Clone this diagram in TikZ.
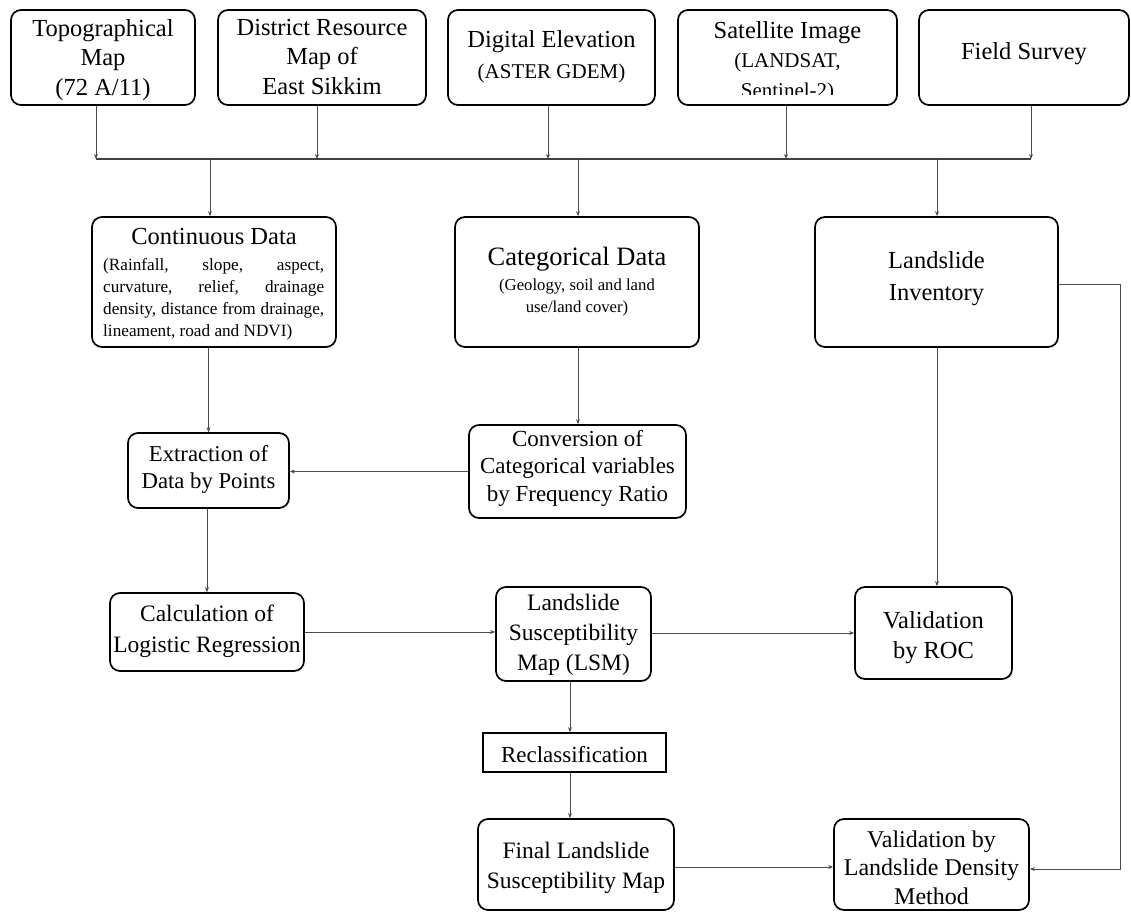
\documentclass[tikz,border=0pt]{standalone}
\usepackage{fontspec}
\setmainfont{Liberation Serif}
\usetikzlibrary{arrows.meta}
\newcommand{\ml}[3]{\fontsize{#1}{#2}\selectfont\begin{tabular}[t]{@{}c@{}}#3\end{tabular}}
\begin{document}
\begin{tikzpicture}[x=1pt,y=-1pt,
  box/.style={draw=black, line width=1.7pt, rounded corners=10pt, inner sep=0pt},
  sbox/.style={draw=black, line width=1.7pt, inner sep=0pt},
  txt/.style={inner sep=0pt, anchor=base},
  con/.style={draw=black!70, line width=1pt},
  arr/.style={con, -{Stealth[length=5pt,width=4pt]}},
  bus/.style={draw=black!75, line width=1.7pt}]
\useasboundingbox (0,0) rectangle (1131,912);

% ---------- top row
\node[box, minimum width=184pt, minimum height=95pt] (topo) at (103,57.5) {};
\node[txt] (topo-t) at (103,36.7) {\ml{24.5}{29.2}{Topographical\\Map\\(72 A/11)}};
\node[box, minimum width=208pt, minimum height=95pt] (dist) at (322,57.5) {};
\node[txt] (dist-t) at (322,35.5) {\ml{24.5}{29.3}{District Resource\\Map of\\East Sikkim}};
\node[box, minimum width=207pt, minimum height=95pt] (dem) at (551.5,57.5) {};
\node[txt] (dem-t) at (551.5,48) {\ml{24.5}{31}{Digital Elevation\\\fontsize{21}{25}\selectfont(ASTER GDEM)}};
\node[box, minimum width=219pt, minimum height=95pt] (sat) at (787.5,57.5) {};
\begin{scope}
\clip (680,12) rectangle (895,95);
\node[txt] (sat-t) at (787.5,38.3) {\ml{24.5}{29.5}{Satellite Image\\\fontsize{21}{25}\selectfont(LANDSAT,\\\fontsize{21}{25}\selectfont Sentinel-2)}};
\end{scope}
\node[box, minimum width=210pt, minimum height=95pt] (field) at (1024,57.5) {};
\node[txt] (field-t) at (1024,59.3) {\ml{24.5}{29}{Field Survey}};

% ---------- bus
\coordinate (b1) at (96,159);
\coordinate (b2) at (317,159);
\coordinate (b3) at (548,159);
\coordinate (b4) at (786,159);
\coordinate (b5) at (1031,159);
\coordinate (d1) at (210,159);
\coordinate (d2) at (578,159);
\coordinate (d3) at (937,159);
\draw[arr] (topo.south -| b1) -- (b1);
\draw[arr] (dist.south -| b2) -- (b2);
\draw[arr] (dem.south -| b3) -- (b3);
\draw[arr] (sat.south -| b4) -- (b4);
\draw[arr] (field.south -| b5) -- (b5);
\draw[bus] (b1) -- (b5);

% ---------- middle row
\node[box, minimum width=244pt, minimum height=130pt] (cont) at (214,282) {};
\node[txt] (cont-t) at (214,244) {\fontsize{24.5}{29}\selectfont Continuous Data};
\node[txt, anchor=base west] (cont-b) at (103,270) {\fontsize{17.2}{22}\selectfont\begin{tabular}[t]{@{}l@{}}\makebox[221pt][s]{(Rainfall, slope, aspect,}\\\makebox[221pt][s]{curvature, relief, drainage}\\\makebox[221pt][s]{density, distance from drainage,}\\lineament, road and NDVI)\end{tabular}};
\node[box, minimum width=244pt, minimum height=130pt] (cat) at (577,282) {};
\node[txt] (cat-t) at (577,265) {\fontsize{26.5}{30}\selectfont Categorical Data};
\node[txt] (cat-b) at (577,290.5) {\ml{16.7}{22}{(Geology, soil and land\\use/land cover)}};
\node[box, minimum width=243pt, minimum height=130pt] (inv) at (936.5,282) {};
\node[txt] (inv-t) at (936.5,268) {\ml{24.5}{32}{Landslide\\Inventory}};

\draw[arr] (d1) -- (d1 |- cont.north);
\draw[arr] (d2) -- (d2 |- cat.north);
\draw[arr] (d3) -- (d3 |- inv.north);

% ---------- extraction / conversion
\node[box, minimum width=161pt, minimum height=75pt] (ext) at (208.5,470.5) {};
\node[txt] (ext-t) at (208.5,461) {\ml{22.7}{27}{Extraction of\\Data by Points}};
\node[box, minimum width=217pt, minimum height=93pt] (conv) at (577.5,471.5) {};
\node[txt] (conv-t) at (577.5,446) {\ml{23}{27.5}{Conversion of\\Categorical variables\\by Frequency Ratio}};
\draw[arr] (cont.south -| ext.north) -- (ext.north);
\draw[arr] (d2 |- cat.south) -- (d2 |- conv.north);
\draw[arr] (conv.west) -- (conv.west -| ext.east);

% ---------- calculation / LSM / ROC
\node[box, minimum width=194pt, minimum height=78pt] (calc) at (207,632) {};
\node[txt] (calc-t) at (207,621) {\ml{23.5}{31}{Calculation of\\Logistic Regression}};
\node[box, minimum width=155pt, minimum height=94pt] (lsm) at (573.5,634) {};
\node[txt] (lsm-t) at (573.5,610) {\ml{23.5}{30}{Landslide\\Susceptibility\\Map (LSM)}};
\node[box, minimum width=157pt, minimum height=92pt] (roc) at (933.5,633) {};
\node[txt] (roc-t) at (933.5,628) {\ml{24.5}{30}{Validation\\by ROC}};
\draw[arr] (calc.north |- ext.south) -- (calc.north);
\draw[arr] (calc.east) -- (calc.east -| lsm.west);
\draw[arr] (lsm.east |- roc.west) -- (roc.west);
\draw[arr] (d3 |- inv.south) -- (d3 |- roc.north);

% ---------- reclassification / final / density
\coordinate (c5) at (570,700);
\node[sbox, minimum width=183pt, minimum height=39pt] (recl) at (574.5,752.5) {};
\node[txt] (recl-t) at (574.5,762) {\fontsize{23}{28}\selectfont Reclassification};
\node[box, minimum width=196pt, minimum height=91pt] (final) at (576,864.5) {};
\node[txt] (final-t) at (576,858) {\ml{23.5}{30}{Final Landslide\\Susceptibility Map}};
\node[box, minimum width=195pt, minimum height=91pt] (vldm) at (931.5,864.5) {};
\node[txt] (vldm-t) at (931.5,847) {\ml{24}{28.5}{Validation by\\Landslide Density\\Method}};
\draw[arr] (c5 |- lsm.south) -- (c5 |- recl.north);
\draw[arr] (c5 |- recl.south) -- (c5 |- final.north);
\coordinate (fy) at (700,867);
\draw[arr] (final.east |- fy) -- (vldm.west |- fy);
\coordinate (l1) at (1120,284);
\coordinate (l2) at (1120,869);
\draw[arr] (inv.east |- l1) -- (l1) -- (l2) -- (vldm.east |- l2);
\end{tikzpicture}
\end{document}
